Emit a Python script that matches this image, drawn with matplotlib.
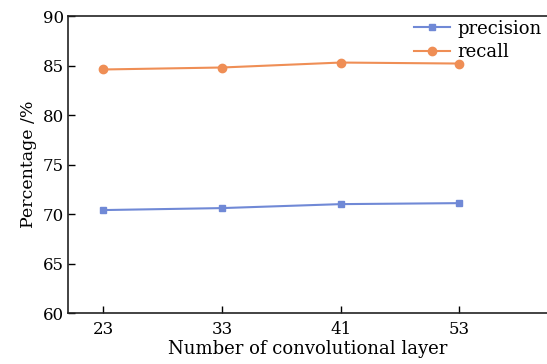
import matplotlib
matplotlib.use('Agg')
import matplotlib.pyplot as plt

layers = ['23', '33', '41', '53']
precision = [70.4, 70.6, 71.0, 71.1]
recall = [84.6, 84.8, 85.3, 85.2]

plt.rcParams['font.family'] = 'DejaVu Serif'
plt.rcParams['font.size'] = 12

fig = plt.figure(figsize=(5.47, 3.64), dpi=100)
ax = fig.add_axes([0.124, 0.14, 0.878, 0.816])

x = range(len(layers))
ax.plot(x, precision, '-s', color='#7089d6', markersize=5, linewidth=1.5, label='precision')
ax.plot(x, recall, '-o', color='#ef8e55', markersize=6, linewidth=1.5, label='recall')

ax.set_xticks(list(x))
ax.set_xticklabels(layers)
ax.set_xlim(-0.3, 3.75)
ax.set_ylim(60, 90)
ax.set_yticks(range(60, 91, 5))
ax.tick_params(direction='in', length=5, width=1, pad=3, top=False, right=False)
ax.tick_params(axis='x', pad=6)
for s in ax.spines.values():
    s.set_linewidth(1.2)
    s.set_color('#222222')
ax.spines['right'].set_visible(False)

ax.set_xlabel('Number of convolutional layer', fontsize=13, labelpad=1)
ax.set_ylabel('Percentage /%', fontsize=12.5, labelpad=4)
ax.legend(loc='upper right', bbox_to_anchor=(1.012, 1.03), frameon=False, fontsize=13,
          handlelength=2.0, borderpad=0.2, labelspacing=0.3, handletextpad=0.4)

fig.savefig('out.png', dpi=100)
